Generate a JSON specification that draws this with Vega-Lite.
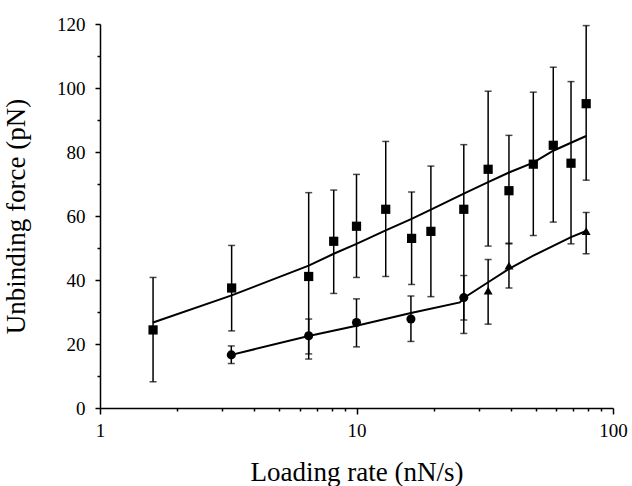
{
  "$schema": "https://vega.github.io/schema/vega-lite/v6.json",
  "width": 513,
  "height": 384,
  "autosize": {"type": "none"},
  "padding": {"left": 100, "top": 24, "right": 19, "bottom": 78},
  "background": "white",
  "config": {
    "view": {"stroke": null},
    "font": "Liberation Serif",
    "axis": {
      "labelFont": "Liberation Serif",
      "titleFont": "Liberation Serif",
      "labelColor": "#000",
      "titleColor": "#000",
      "domainColor": "#000",
      "tickColor": "#000",
      "grid": false,
      "labelFlush": false,
      "titleFontWeight": "normal",
      "labelFontSize": 19,
      "titleFontSize": 27,
      "domainWidth": 1.5,
      "tickWidth": 1.5
    }
  },
  "datasets": {
    "pts": [
      {"s": "sq", "x": 1.61, "y": 24.4, "lo": 8.2, "hi": 40.8},
      {"s": "sq", "x": 3.26, "y": 37.5, "lo": 24.1, "hi": 50.8},
      {"s": "sq", "x": 6.51, "y": 41.1, "lo": 15.3, "hi": 67.3},
      {"s": "sq", "x": 8.15, "y": 52.1, "lo": 35.8, "hi": 68.1},
      {"s": "sq", "x": 10, "y": 56.8, "lo": 40.8, "hi": 73.0},
      {"s": "sq", "x": 13.0, "y": 62.1, "lo": 41.1, "hi": 83.3},
      {"s": "sq", "x": 16.4, "y": 53.0, "lo": 38.6, "hi": 67.5},
      {"s": "sq", "x": 19.5, "y": 55.2, "lo": 34.8, "hi": 75.6},
      {"s": "sq", "x": 26.2, "y": 62.1, "lo": 23.3, "hi": 82.3},
      {"s": "sq", "x": 32.6, "y": 74.6, "lo": 50.6, "hi": 99.0},
      {"s": "sq", "x": 39.3, "y": 67.9, "lo": 51.3, "hi": 85.2},
      {"s": "sq", "x": 48.9, "y": 76.2, "lo": 53.9, "hi": 98.7},
      {"s": "sq", "x": 58.5, "y": 82.1, "lo": 58.1, "hi": 106.5},
      {"s": "sq", "x": 68.6, "y": 76.5, "lo": 51.3, "hi": 102.0},
      {"s": "sq", "x": 78.6, "y": 95.1, "lo": 71.2, "hi": 119.5},
      {"s": "ci", "x": 3.25, "y": 16.6, "lo": 13.9, "hi": 19.4},
      {"s": "ci", "x": 6.51, "y": 22.6, "lo": 16.9, "hi": 27.8},
      {"s": "ci", "x": 10, "y": 26.7, "lo": 19.1, "hi": 34.1},
      {"s": "ci", "x": 16.3, "y": 27.8, "lo": 20.8, "hi": 35.0},
      {"s": "ci", "x": 26.2, "y": 34.5, "lo": 27.5, "hi": 41.4},
      {"s": "tr", "x": 32.6, "y": 36.7, "lo": 26.2, "hi": 46.4},
      {"s": "tr", "x": 39.3, "y": 44.5, "lo": 37.5, "hi": 51.5},
      {"s": "tr", "x": 78.6, "y": 55.3, "lo": 48.2, "hi": 61.1}
    ],
    "fits": [
      {"fit": "a", "x": 1.61, "y": 26.7},
      {"fit": "a", "x": 3.26, "y": 35.2},
      {"fit": "a", "x": 6.51, "y": 44.5},
      {"fit": "a", "x": 8.15, "y": 48.2},
      {"fit": "a", "x": 10, "y": 51.3},
      {"fit": "a", "x": 13.0, "y": 55.5},
      {"fit": "a", "x": 16.4, "y": 59.1},
      {"fit": "a", "x": 19.5, "y": 62.0},
      {"fit": "a", "x": 26.2, "y": 67.0},
      {"fit": "a", "x": 32.6, "y": 70.6},
      {"fit": "a", "x": 39.3, "y": 73.6},
      {"fit": "a", "x": 48.9, "y": 76.7},
      {"fit": "a", "x": 58.5, "y": 80.4},
      {"fit": "a", "x": 68.6, "y": 82.9},
      {"fit": "a", "x": 78.6, "y": 85.0},
      {"fit": "b", "x": 3.25, "y": 16.6},
      {"fit": "b", "x": 6.51, "y": 22.5},
      {"fit": "b", "x": 10, "y": 25.7},
      {"fit": "b", "x": 16.3, "y": 29.7},
      {"fit": "b", "x": 25.3, "y": 33.0},
      {"fit": "b", "x": 26.2, "y": 34.4},
      {"fit": "b", "x": 32.6, "y": 39.3},
      {"fit": "b", "x": 39.3, "y": 43.5},
      {"fit": "b", "x": 48.9, "y": 47.6},
      {"fit": "b", "x": 68.6, "y": 53.4},
      {"fit": "b", "x": 78.6, "y": 55.3}
    ]
  },
  "layer": [
    {
      "data": {"name": "fits"},
      "mark": {"type": "line", "color": "black", "strokeWidth": 2},
      "encoding": {
        "x": {"field": "x", "type": "quantitative",
          "scale": {"type": "log", "domain": [1, 100], "nice": false},
          "axis": {"values": [1, 10, 100], "format": "d", "title": "Loading rate (nN/s)", "tickSize": 6, "labelPadding": 7, "titlePadding": 19, "orient": "bottom"}},
        "y": {"field": "y", "type": "quantitative",
          "scale": {"domain": [0, 120], "nice": false},
          "axis": {"values": [0, 20, 40, 60, 80, 100, 120], "title": "Unbinding force (pN)", "tickSize": 5, "labelPadding": 10, "titlePadding": 26, "orient": "left"}},
        "detail": {"field": "fit", "type": "nominal"}
      }
    },
    {
      "data": {"name": "pts"},
      "mark": {"type": "point", "opacity": 0},
      "encoding": {
        "x": {"field": "x", "type": "quantitative",
          "axis": {"values": [2, 3, 4, 5, 6, 7, 8, 9, 20, 30, 40, 50, 60, 70, 80, 90], "labels": false, "title": null, "domain": false, "tickSize": 3, "orient": "bottom"}},
        "y": {"field": "y", "type": "quantitative",
          "axis": {"values": [10, 30, 50, 70, 90, 110], "labels": false, "title": null, "domain": false, "tickSize": 3, "orient": "left"}}
      }
    },
    {
      "data": {"name": "pts"},
      "mark": {"type": "errorbar", "color": "black", "ticks": {"size": 7, "thickness": 1.5}, "rule": {"strokeWidth": 1.5}},
      "encoding": {
        "x": {"field": "x", "type": "quantitative", "axis": null},
        "y": {"field": "lo", "type": "quantitative", "axis": null},
        "y2": {"field": "hi"}
      }
    },
    {
      "data": {"name": "pts"},
      "mark": {"type": "point", "filled": true, "opacity": 1, "color": "black"},
      "encoding": {
        "x": {"field": "x", "type": "quantitative", "axis": null},
        "y": {"field": "y", "type": "quantitative", "axis": null},
        "shape": {"field": "s", "type": "nominal",
          "scale": {"domain": ["sq", "ci", "tr"], "range": ["square", "circle", "triangle-up"]},
          "legend": null},
        "size": {"field": "s", "type": "nominal",
          "scale": {"domain": ["sq", "ci", "tr"], "range": [85, 80, 120]},
          "legend": null}
      }
    }
  ],
  "resolve": {"axis": {"x": "independent", "y": "independent"}}
}
